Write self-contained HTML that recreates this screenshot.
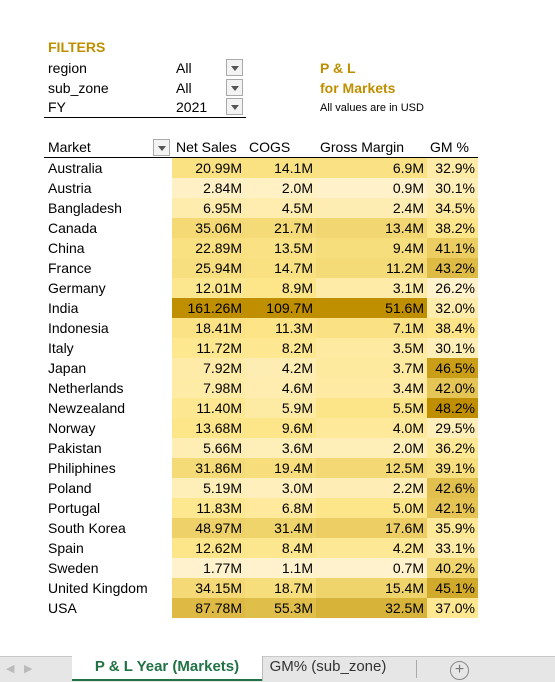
<!DOCTYPE html>
<html><head><meta charset="utf-8">
<style>
body{margin:0;width:555px;height:681px;background:#fff;position:relative;overflow:hidden;font-family:"Liberation Sans",Arial,sans-serif;font-size:14px;color:#000}
.abs{position:absolute;white-space:nowrap}
.gold{color:#bf8f00;font-weight:bold}
.dd{position:absolute;width:17px;height:17px;border:1px solid #aaa;background:#f3f3f3;box-sizing:border-box}
.dd:after{content:"";position:absolute;left:4px;top:6px;border-left:4px solid transparent;border-right:4px solid transparent;border-top:5px solid #555}
.cell{position:absolute;height:20px;line-height:20px;text-align:right;box-sizing:border-box;padding-right:3px}
</style></head><body>
<div class="abs gold" style="left:48px;top:39px;font-size:14px">FILTERS</div>
<div class="abs" style="left:48px;top:60px">region</div>
<div class="abs" style="left:176px;top:60px">All</div>
<div class="dd" style="left:226px;top:59px"></div>
<div class="abs" style="left:48px;top:80px">sub_zone</div>
<div class="abs" style="left:176px;top:80px">All</div>
<div class="dd" style="left:226px;top:79px"></div>
<div class="abs" style="left:48px;top:99px">FY</div>
<div class="abs" style="left:176px;top:99px">2021</div>
<div class="dd" style="left:226px;top:98px;"></div>
<div class="abs" style="left:44px;top:117px;width:202px;height:1px;background:#000"></div>
<div class="abs gold" style="left:320px;top:60px">P &amp; L</div>
<div class="abs gold" style="left:320px;top:80px">for Markets</div>
<div class="abs" style="left:320px;top:102px;font-size:11px">All values are in USD</div>

<div class="abs" style="left:48px;top:139px">Market</div>
<div class="dd" style="left:153px;top:139px"></div>
<div class="abs" style="left:176px;top:139px">Net Sales</div>
<div class="abs" style="left:249px;top:139px">COGS</div>
<div class="abs" style="left:320px;top:139px">Gross Margin</div>
<div class="abs" style="left:430px;top:139px">GM %</div>
<div class="abs" style="left:44px;top:157px;width:434px;height:1px;background:#000"></div>
<div id="tbl"></div>

<div class="abs" style="left:0;top:656px;width:555px;height:25px;background:#e6e6e6;border-top:1px solid #c8c8c8"></div>
<div class="abs" style="left:6px;top:662px;color:#bbb;font-size:11px">◀</div>
<div class="abs" style="left:24px;top:662px;color:#bbb;font-size:11px">▶</div>
<div class="abs" style="left:72px;top:656px;width:190px;height:25px;background:#fff;border-bottom:2px solid #217346;box-sizing:border-box;color:#217346;font-weight:bold;font-size:15px;text-align:center;line-height:22px">P &amp; L Year (Markets)</div>
<div class="abs" style="left:262px;top:656px;width:130px;height:25px;color:#333;font-size:15px;text-align:center;line-height:22px;border-left:1px solid #bbb">GM% (sub_zone)</div>
<div class="abs" style="left:416px;top:660px;width:1px;height:18px;background:#aaa"></div>
<div class="abs" style="left:450px;top:661px;width:17px;height:17px;border:1.5px solid #888;border-radius:50%;text-align:center;line-height:16px;color:#777;font-size:16px">+</div>

<script>
const markets=["Australia","Austria","Bangladesh","Canada","China","France","Germany","India","Indonesia","Italy","Japan","Netherlands","Newzealand","Norway","Pakistan","Philiphines","Poland","Portugal","South Korea","Spain","Sweden","United Kingdom","USA"];
const netSales=[20.99,2.84,6.95,35.06,22.89,25.94,12.01,161.26,18.41,11.72,7.92,7.98,11.40,13.68,5.66,31.86,5.19,11.83,48.97,12.62,1.77,34.15,87.78];
const cogs=[14.1,2.0,4.5,21.7,13.5,14.7,8.9,109.7,11.3,8.2,4.2,4.6,5.9,9.6,3.6,19.4,3.0,6.8,31.4,8.4,1.1,18.7,55.3];
const grossMargin=[6.9,0.9,2.4,13.4,9.4,11.2,3.1,51.6,7.1,3.5,3.7,3.4,5.5,4.0,2.0,12.5,2.2,5.0,17.6,4.2,0.7,15.4,32.5];
const gmPct=[32.9,30.1,34.5,38.2,41.1,43.2,26.2,32.0,38.4,30.1,46.5,42.0,48.2,29.5,36.2,39.1,42.6,42.1,35.9,33.1,40.2,45.1,37.0];
const lo=[255,242,204],mid=[253,230,138],hi=[191,143,0];
function scale(arr){const s=[...arr].sort((a,b)=>a-b);const mn=s[0],mx=s[s.length-1];const n=s.length;const md=n%2?s[(n-1)/2]:(s[n/2-1]+s[n/2])/2;
 return v=>{let a,b,t;if(v<=md){a=lo;b=mid;t=md>mn?(v-mn)/(md-mn):0}else{a=mid;b=hi;t=mx>md?(v-md)/(mx-md):0}
 return `rgb(${a.map((c,i)=>Math.round(c+(b[i]-c)*t)).join(',')})`}}
const cols=[{d:netSales,x:172,w:73,f:v=>v.toFixed(2)+'M',n:'net-sales'},{d:cogs,x:245,w:71,f:v=>v.toFixed(1)+'M',n:'cogs'},{d:grossMargin,x:316,w:111,f:v=>v.toFixed(1)+'M',n:'gross-margin'},{d:gmPct,x:427,w:51,f:v=>v.toFixed(1)+'%',n:'gm-pct'}];
const tbl=document.getElementById('tbl');
markets.forEach((m,i)=>{const y=158+i*20;
 const l=document.createElement('div');l.className='cell';l.style.cssText=`left:48px;top:${y}px;text-align:left`;l.textContent=m;
 
 
 tbl.appendChild(l);
 cols.forEach(c=>{const sc=scale(c.d);const e=document.createElement('div');e.className='cell';
  e.style.cssText=`left:${c.x}px;top:${y}px;width:${c.w}px;background:${sc(c.d[i])}`;e.textContent=c.f(c.d[i]);
  
  
  tbl.appendChild(e);});
});
</script>
</body></html>
